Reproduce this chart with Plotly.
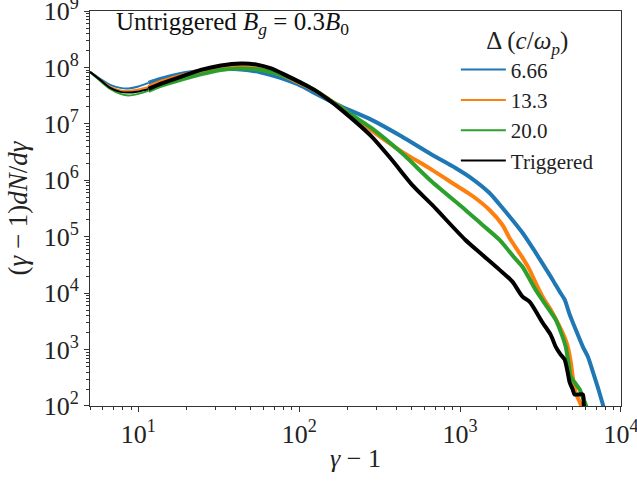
import plotly.graph_objects as go

# ---- data (gamma-1, (gamma-1) dN/dgamma) ----
x_thin = [5.0, 5.79, 6.68, 7.72, 8.66, 10.0, 11.55]

blue_thin_y = [8.33e7, 6.26e7, 4.90e7, 4.34e7, 4.25e7, 4.61e7, 5.32e7]
orange_thin_y = [8.33e7, 6.01e7, 4.52e7, 3.92e7, 3.84e7, 4.08e7, 4.52e7]
green_thin_y = [8.33e7, 5.77e7, 4.16e7, 3.40e7, 3.19e7, 3.40e7, 3.84e7]
black_thin_y = [8.33e7, 6.01e7, 4.34e7, 3.69e7, 3.58e7, 3.76e7, 4.16e7]

blue_x = [11.55, 13.72, 18.30, 24.41, 32.54, 43.40, 57.88, 77.20, 102.9, 124.1, 183.0,
          281.8, 434.0, 668.3, 930.6, 1189, 1518, 1830, 2441, 2818, 3255, 3758, 4156,
          4467, 4801, 5232, 5788, 6220, 6683, 7181, 7718, 8058]
blue_y = [5.32e7, 6.26e7, 7.67e7, 8.67e7, 9.41e7, 9.22e7, 8.15e7, 6.44e7, 4.71e7, 3.54e7,
          2.02e7, 1.177e7, 5.96e6, 2.83e6, 1.665e6, 1.063e6, 6.01e5, 3.26e5, 1.177e5,
          6.39e4, 3.33e4, 1.73e4, 1.063e4, 7.67e3, 4.16e3, 2.26e3, 1.13e3, 752, 408,
          213, 106, 70.7]

orange_x = [11.55, 13.72, 18.30, 24.41, 32.54, 43.40, 57.88, 77.20, 102.9, 124.1, 183.0,
            325.4, 434.0, 668.3, 930.6, 1189, 1518, 1830, 2024, 2441, 2700, 2943, 3255,
            3652, 4156, 4467, 4665, 4870, 5012, 5232, 5623, 5788]
orange_y = [4.52e7, 5.54e7, 7.07e7, 8.67e7, 1.00e8, 1.02e8, 9.22e7, 7.37e7, 5.11e7, 4.00e7,
            1.92e7, 5.65e6, 3.23e6, 1.53e6, 8.33e5, 5.32e5, 3.01e5, 1.63e5, 9.60e4,
            4.25e4, 2.61e4, 1.53e4, 8.67e3, 5.11e3, 2.55e3, 1.63e3, 1.13e3, 613, 333,
            173, 106, 80]

green_x = [11.55, 13.72, 18.30, 24.41, 32.54, 43.40, 57.88, 77.20, 102.9, 124.1, 183.0,
           281.8, 434.0, 668.3, 1075, 1372, 1753, 2175, 2441, 2943, 3498, 3925, 4217,
           4532, 4732, 4870, 5158, 5542, 5788, 6043, 6220]
green_y = [3.84e7, 4.71e7, 6.01e7, 7.52e7, 9.03e7, 9.60e7, 9.03e7, 7.37e7, 5.32e7, 4.00e7,
           1.90e7, 8.39e6, 3.03e6, 9.41e5, 3.01e5, 1.63e5, 8.85e4, 4.25e4, 2.94e4,
           1.153e4, 5.54e3, 3.40e3, 2.08e3, 1.13e3, 543, 333, 261, 196, 141, 106, 80]

black_x = [11.55, 13.72, 18.30, 24.41, 32.54, 43.40, 53.85, 66.83, 82.94, 102.9, 124.1,
           149.6, 183.0, 281.8, 375.8, 513.5, 668.3, 1075, 1372, 1753, 2113, 2441, 2700,
           3255, 3652, 3925, 4217, 4467, 4665, 4801, 5012, 5158, 5788, 5872, 5957]
black_y = [4.16e7, 5.11e7, 6.79e7, 9.03e7, 1.085e8, 1.177e8, 1.130e8, 9.60e7, 7.22e7,
           5.32e7, 4.00e7, 2.77e7, 1.77e7, 5.96e6, 2.31e6, 7.77e5, 3.69e5, 8.85e4,
           4.80e4, 2.61e4, 1.60e4, 8.67e3, 7.07e3, 3.01e3, 1.84e3, 1.13e3, 815, 665,
           392, 261, 196, 160, 160, 106, 80]

labels = ["6.66", "13.3", "20.0", "Triggered"]
colors = ["#1f77b4", "#ff7f0e", "#2ca02c", "#000000"]

y_tickvals = [1e2, 1e3, 1e4, 1e5, 1e6, 1e7, 1e8, 1e9]
y_ticktext = ["10<sup>%d</sup>" % i for i in range(2, 10)]
x_tickvals = [1e1, 1e2, 1e3, 1e4]
x_ticktext = ["10<sup>%d</sup>" % i for i in range(1, 5)]
x_minor = [m * 10 ** e for e in range(0, 4) for m in range(2, 10)]
y_minor = [m * 10 ** e for e in range(2, 9) for m in range(2, 10)]

FONT = "Liberation Serif"

series = [
    (blue_thin_y, blue_x, blue_y),
    (orange_thin_y, orange_x, orange_y),
    (green_thin_y, green_x, green_y),
    (black_thin_y, black_x, black_y),
]

fig = go.Figure()
for (ty, bx, by), lab, col in zip(series, labels, colors):
    fig.add_trace(go.Scatter(x=x_thin, y=ty, mode="lines", name=lab, legendgroup=lab,
                             line=dict(color=col, width=2, shape="spline",
                                       smoothing=0.8),
                             showlegend=True))
for (ty, bx, by), lab, col in zip(series, labels, colors):
    fig.add_trace(go.Scatter(x=bx, y=by, mode="lines", name=lab, legendgroup=lab,
                             line=dict(color=col, width=4, shape="spline",
                                       smoothing=0.7),
                             showlegend=False))

axis_common = dict(
    type="log", showgrid=False, zeroline=False, showline=True, linecolor="#333333",
    linewidth=1, mirror=True, ticks="outside", ticklen=5, tickwidth=1,
    tickcolor="#333333", ticklabeloverflow="allow", automargin=False,
    tickfont=dict(family=FONT, size=26, color="#222222"),
)

fig.update_xaxes(**axis_common, range=[0.69897, 4.0002], tickmode="array",
                 tickvals=x_tickvals, ticktext=x_ticktext,
                 minor=dict(tickmode="array", tickvals=x_minor, ticks="outside",
                            ticklen=3, tickwidth=1, tickcolor="#333333", showgrid=False),
                 title=dict(text="<i>γ</i> − 1", font=dict(family=FONT, size=26,
                                                           color="#222222"),
                            standoff=0))
fig.update_yaxes(**axis_common, range=[1.9998, 9.0002], tickmode="array",
                 tickvals=y_tickvals, ticktext=y_ticktext,
                 minor=dict(tickmode="array", tickvals=y_minor, ticks="outside",
                            ticklen=3, tickwidth=1, tickcolor="#333333", showgrid=False),
                 title=dict(text="(<i>γ</i> − 1)<i>dN</i>/<i>dγ</i>",
                            font=dict(family=FONT, size=27, color="#222222"),
                            standoff=8))

fig.add_annotation(
    xref="paper", yref="paper", x=0.045, y=0.968, xanchor="left", yanchor="middle",
    text="Untriggered <i>B<sub>g</sub></i> = 0.3<i>B</i><sub>0</sub>",
    showarrow=False, font=dict(family=FONT, size=25, color="#111111"),
)

fig.update_layout(
    width=637, height=481,
    margin=dict(l=90, r=16, t=11, b=75, autoexpand=False),
    paper_bgcolor="white", plot_bgcolor="white",
    showlegend=True,
    legend=dict(
        x=0.689, y=0.985, xanchor="left", yanchor="top",
        bgcolor="rgba(255,255,255,0)", borderwidth=0,
        font=dict(family=FONT, size=21, color="#222222"),
        title=dict(text="Δ (<i>c</i>/<i>ω<sub>p</sub></i>)", side="top center",
                   font=dict(family=FONT, size=25, color="#222222")),
        tracegroupgap=0, itemwidth=45,
    ),
)

fig.write_html("out.html")
